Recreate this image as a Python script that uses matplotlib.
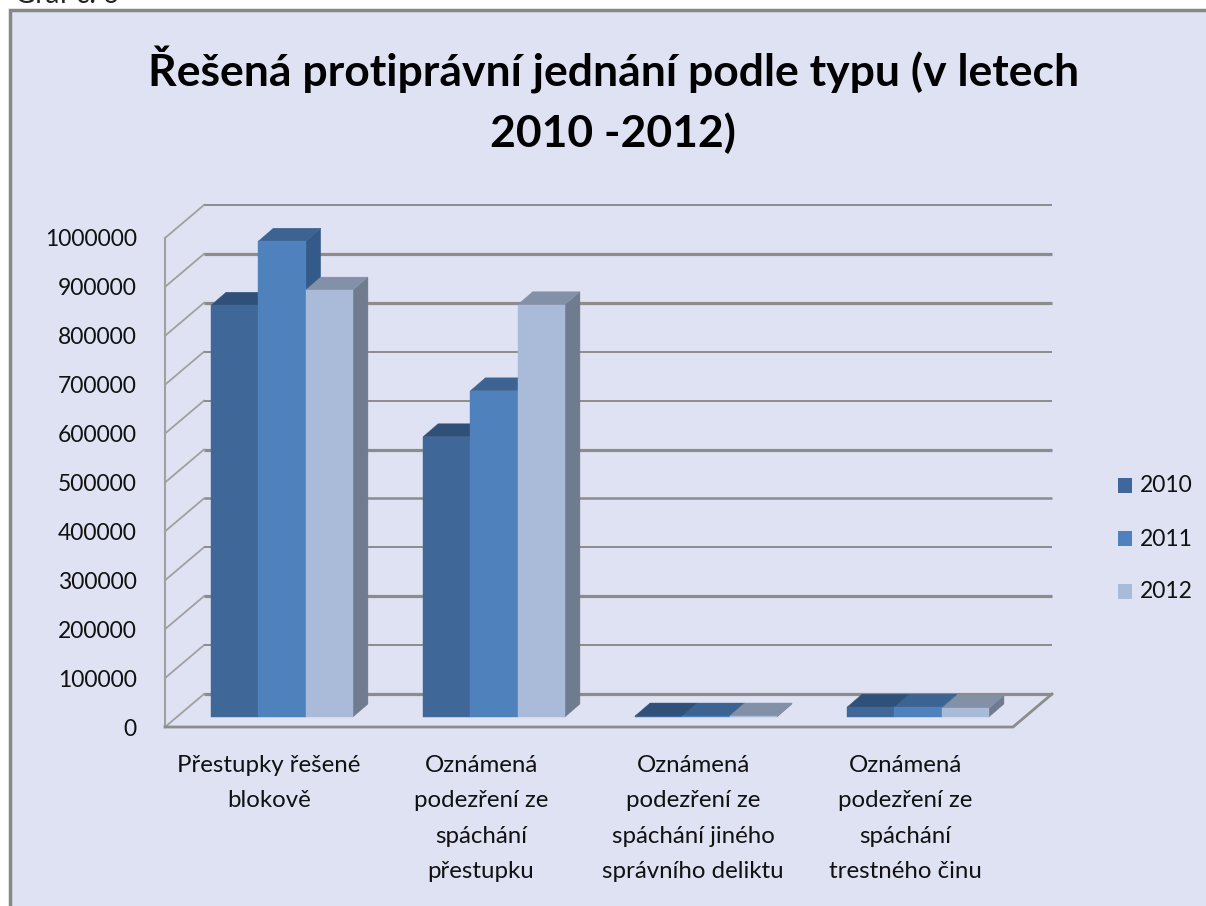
import matplotlib
matplotlib.use("Agg")
import matplotlib.pyplot as plt
from matplotlib.patches import Polygon, Rectangle

plt.rcParams["font.family"] = ["Lato", "DejaVu Sans"]

W, H = 1206, 906

CATEGORIES = [
    "Přestupky řešené\nblokově",
    "Oznámená\npodezření ze\nspáchání\npřestupku",
    "Oznámená\npodezření ze\nspáchání jiného\nsprávního deliktu",
    "Oznámená\npodezření ze\nspáchání\ntrestného činu",
]
YEARS = ["2010", "2011", "2012"]
VALUES_2010 = [842000, 573000, 2000, 20000]
VALUES_2011 = [973000, 667000, 2000, 20000]
VALUES_2012 = [873000, 843000, 2000, 18000]
Y_TICKS = list(range(0, 1000001, 100000))

COLORS = ["#3f6797", "#4f81bd", "#aabad9"]
TOPS = ["#2f5078", "#3c6391", "#8290a8"]
SIDES = ["#2f5078", "#335a88", "#6f7b8e"]
BG = "#dfe2f3"
GRID = "#8c8c8c"
GRID_LW = [2.3, 1.4, 2.3, 1.4, 1.8, 2.3, 1.4, 1.4, 2.3, 2.3, 1.4]

fig = plt.figure(figsize=(W / 100, H / 100), dpi=100, facecolor="white")

# backdrop in pixel coordinates
bg = fig.add_axes([0, 0, 1, 1])
bg.set_xlim(0, W)
bg.set_ylim(H, 0)
bg.axis("off")
bg.add_patch(Rectangle((10, 10), W, H, fc=BG, ec="#878787", lw=2.5))
bg.text(15, 3, "Graf č. 6", fontsize=20, color="#222222", ha="left", va="baseline")

bg.text(614, 70, "Řešená protiprávní jednání podle typu (v letech", fontsize=32,
        fontweight="bold", ha="center", va="center", color="black")
bg.text(613, 133, "2010 -2012)", fontsize=32, fontweight="bold", ha="center",
        va="center", color="black")

# front plane of the chart
X0, X1, Y0, Y1 = 165, 1013, 727, 238
ax = fig.add_axes([X0 / W, 1 - Y0 / H, (X1 - X0) / W, (Y0 - Y1) / H])
ax.set_xlim(-0.5, 3.5)
ax.set_ylim(0, 1000000)
ax.axis("off")

px_x = 4 / (X1 - X0)
px_y = 1000000 / (Y0 - Y1)


def shifted(points, dx, dy):
    # dx, dy are screen pixels, dy up
    return [(x + dx * px_x, y + dy * px_y) for x, y in points]


def add_poly(points, color, z=2):
    ax.add_patch(Polygon(points, closed=True, fc=color, ec=color, lw=0.3, zorder=z, clip_on=False))


# walls and gridlines
BACK_DX, BACK_DY = 39, 33
for t, lw in zip(Y_TICKS, GRID_LW):
    ax.plot([-0.5, -0.5 + BACK_DX * px_x], [t, t + BACK_DY * px_y], color="#a0a0a0", lw=1.3,
            clip_on=False, zorder=1)
    ax.plot([-0.5 + BACK_DX * px_x, 3.5 + BACK_DX * px_x], [t + BACK_DY * px_y] * 2, color=GRID,
            lw=lw, clip_on=False, zorder=1, solid_capstyle="butt")
    ax.text(-0.5 - 28 * px_x, t - 2 * px_y, str(t), ha="right", va="center", fontsize=16.5, color="#111111")
ax.plot([-0.5, -0.5], [0, 1000000], color="#a0a0a0", lw=1.5, clip_on=False, zorder=1)
ax.plot([-0.5, 3.5, 3.5 + BACK_DX * px_x], [0, 0, BACK_DY * px_y], color=GRID, lw=2, clip_on=False,
        zorder=1, solid_joinstyle="miter")

# bars
BAR_W = 47.3 * px_x
OFF_X, OFF_Y = 11, 10
DEPTH_X, DEPTH_Y = 15, 13
for s, vals in enumerate([VALUES_2010, VALUES_2011, VALUES_2012]):
    for c, v in enumerate(vals):
        left = c + (s - 1.5) * BAR_W
        right = left + BAR_W
        front = shifted([(left, 0), (right, 0), (right, v), (left, v)], OFF_X, OFF_Y)
        top = [front[3], front[2], shifted([front[2]], DEPTH_X, DEPTH_Y)[0], shifted([front[3]], DEPTH_X, DEPTH_Y)[0]]
        side = [front[1], shifted([front[1]], DEPTH_X, DEPTH_Y)[0], shifted([front[2]], DEPTH_X, DEPTH_Y)[0], front[2]]
        add_poly(side, SIDES[s], 2 + s)
        add_poly(top, TOPS[s], 2 + s)
        add_poly(front, COLORS[s], 2 + s)

# category labels
for c, label in enumerate(CATEGORIES):
    ax.text(c - 2 * px_x, -28 * px_y, label, ha="center", va="top", fontsize=17.3, color="#111111",
            linespacing=1.84, clip_on=False)

# legend
for s, year in enumerate(YEARS):
    y = 486 + s * 53
    bg.add_patch(Rectangle((1118, y - 8), 14, 15, fc=COLORS[s], ec="none"))
    bg.text(1140, y, year, fontsize=16.5, ha="left", va="center", color="#111111")

fig.savefig("out.png", dpi=100, facecolor=fig.get_facecolor())
